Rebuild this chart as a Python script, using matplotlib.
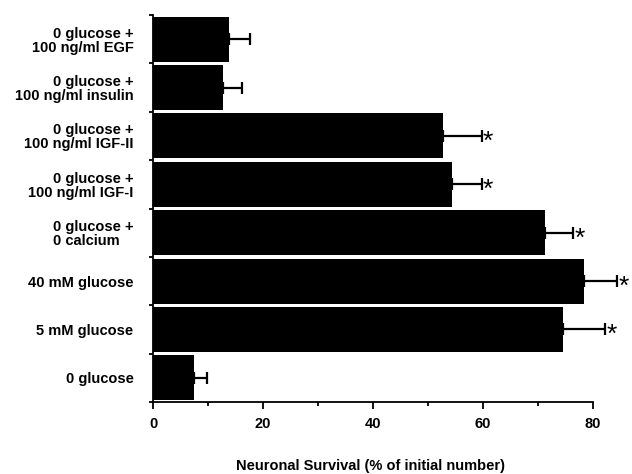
import matplotlib
matplotlib.use("Agg")
import matplotlib.pyplot as plt
import numpy as np

categories = ["0 glucose", "5 mM glucose", "40 mM glucose", "0 glucose +\n0 calcium",
              "0 glucose +\n100 ng/ml IGF-I", "0 glucose +\n100 ng/ml IGF-II",
              "0 glucose +\n100 ng/ml insulin", "0 glucose +\n100 ng/ml EGF"]
survival = [7.5, 74.5, 78.4, 71.3, 54.4, 52.7, 12.7, 13.8]
sem = [2.3, 7.7, 6.0, 5.1, 5.4, 7.1, 3.5, 3.8]
significant = [False, True, True, True, True, True, False, False]
xticks = [0, 20, 40, 60, 80]

plt.rcParams['font.family'] = ['Liberation Sans', 'DejaVu Sans']

fig = plt.figure(figsize=(6.32, 4.74), dpi=100)
ax = fig.add_axes([153/632, 1-402/474, 479/632, (402-15)/474])

y = np.arange(len(categories))
ax.barh(y, survival, height=0.93, color='black', edgecolor='none')
ax.errorbar(survival, y, xerr=[np.zeros(len(sem)), sem], fmt='none', ecolor='black',
            elinewidth=1.6, capsize=4.5, capthick=1.6)
for yi, v, e, s in zip(y, survival, sem, significant):
    if s:
        ax.text(v + e + 0.2, yi - 0.12, "*", fontsize=19, va='center', ha='left', color='black')

ax.set_xlim(0, 87.1)
ax.set_ylim(-0.5, 7.5)
ax.spines['top'].set_visible(False)
ax.spines['right'].set_visible(False)
ax.spines['bottom'].set_bounds(0, 80)
ax.spines['left'].set_linewidth(1.3)
ax.spines['bottom'].set_linewidth(1.3)

ax.set_xticks(xticks)
ax.set_xticklabels([str(t) for t in xticks], fontsize=10.5, fontweight='bold')
ax.set_xticks([10, 30, 50, 70], minor=True)
ax.tick_params(axis='x', which='major', length=5, width=1.3, pad=6)
ax.tick_params(axis='x', which='minor', length=3, width=1.3)

ax.set_yticks(y)
ax.set_yticklabels(categories, fontsize=10.5, fontweight='bold', linespacing=1.0)
ax.set_yticks(np.arange(-0.5, 8, 1.0), minor=True)
ax.tick_params(axis='y', which='major', length=0, pad=14)
ax.tick_params(axis='y', which='minor', length=3, width=1.3)
for i, lab in enumerate(ax.get_yticklabels()):
    lab.set_horizontalalignment('right')
    lab.set_multialignment('left' if i == 3 else 'right')

ax.set_xlabel("Neuronal Survival (% of initial number)", fontsize=10.5, fontweight='bold')
ax.xaxis.set_label_coords((370-153)/479, -(459-402)/387)

fig.savefig("out.png", dpi=100)
